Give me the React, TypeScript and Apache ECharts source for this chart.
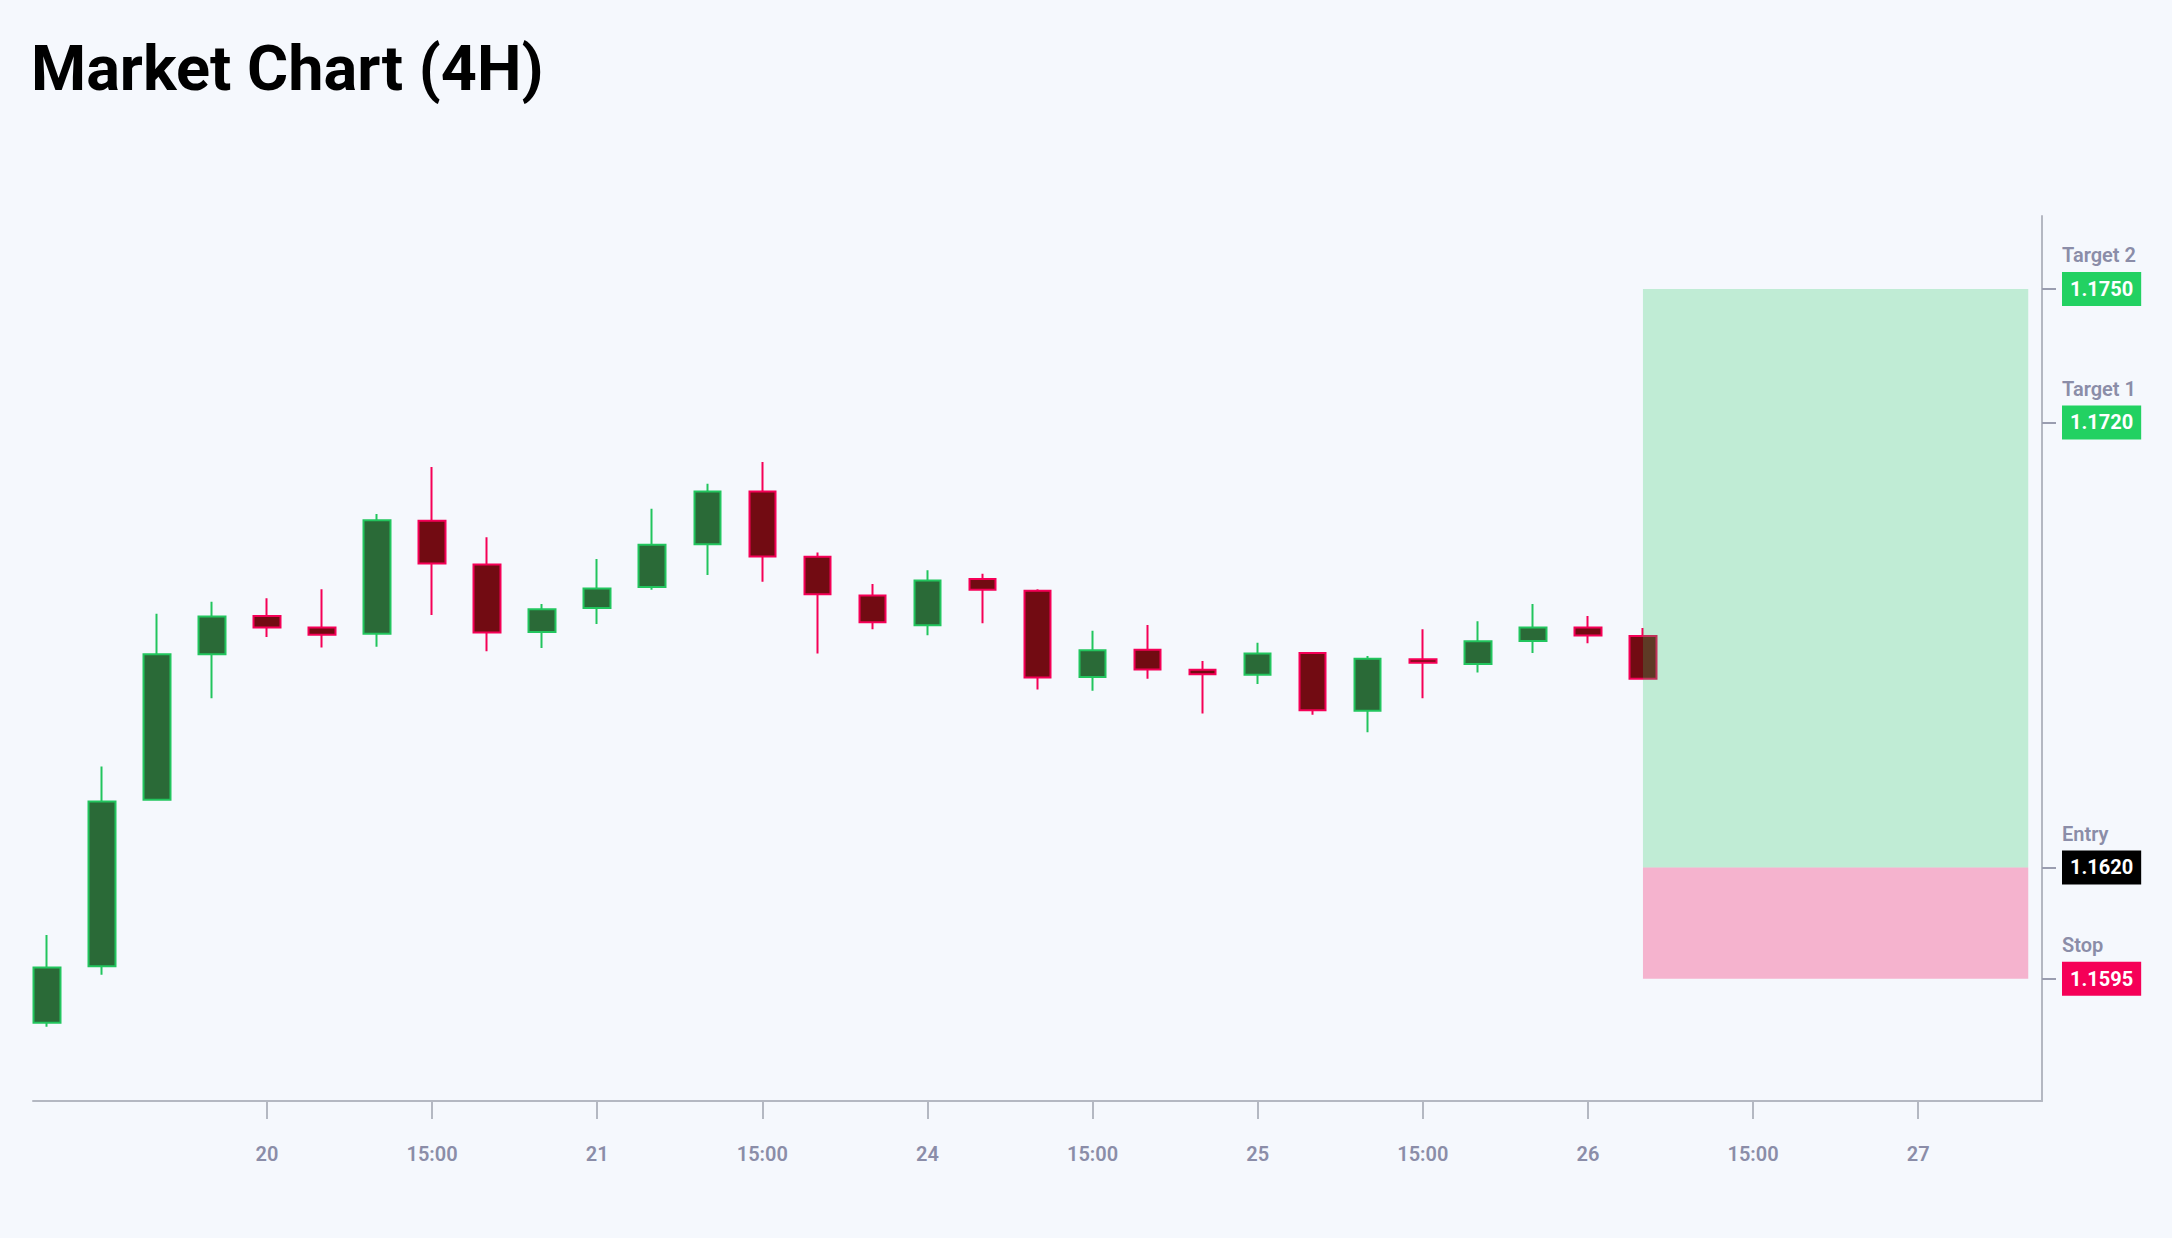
import React, { useEffect, useRef } from "react";
import * as echarts from "echarts";

const opens = [1.15851, 1.15978, 1.16352, 1.16679, 1.16765, 1.16739, 1.16725, 1.16979, 1.16881, 1.16729, 1.16783, 1.1683, 1.16926, 1.17045, 1.16898, 1.16811, 1.16744, 1.16848, 1.16822, 1.16628, 1.16689, 1.16644, 1.16633, 1.16682, 1.16552, 1.16668, 1.16657, 1.16709, 1.16739, 1.1672];
const closes = [1.15975, 1.16348, 1.16679, 1.16764, 1.16739, 1.16723, 1.1698, 1.16883, 1.16728, 1.1678, 1.16827, 1.16925, 1.17045, 1.16899, 1.16814, 1.16751, 1.16845, 1.16824, 1.16627, 1.16688, 1.16645, 1.16634, 1.16681, 1.16553, 1.16669, 1.1666, 1.16708, 1.16739, 1.16721, 1.16624];
const lows = [1.15842, 1.15959, 1.16352, 1.1658, 1.16718, 1.16694, 1.16696, 1.16767, 1.16686, 1.16693, 1.16747, 1.16824, 1.16857, 1.16842, 1.16681, 1.16735, 1.16722, 1.16749, 1.166, 1.16597, 1.16624, 1.16546, 1.16612, 1.16543, 1.16504, 1.1658, 1.16638, 1.16682, 1.16704, 1.16622];
const highs = [1.16048, 1.16427, 1.1677, 1.16797, 1.16805, 1.16825, 1.16994, 1.171, 1.16942, 1.16792, 1.16893, 1.17006, 1.17062, 1.17111, 1.16908, 1.16837, 1.16868, 1.1686, 1.16825, 1.16732, 1.16745, 1.16664, 1.16705, 1.16684, 1.16675, 1.16735, 1.16753, 1.16792, 1.16765, 1.16738];

const xTickPositions = [4, 7, 10, 13, 16, 19, 22, 25, 28, 31, 34];
const xTickLabels = ["20", "15:00", "21", "15:00", "24", "15:00", "25", "15:00", "26", "15:00", "27"];

const levelNames = ["Target 2", "Target 1", "Entry", "Stop"];
const levelValues = [1.175, 1.172, 1.162, 1.1595];
const levelColors = ["#22d162", "#22d162", "#000000", "#f50057"];

const zoneStart = 29;
const zoneEnd = 36;

export default function App() {
  const ref = useRef<HTMLDivElement>(null);
  useEffect(() => {
    document.body.style.margin = "0";
    const chart = echarts.init(ref.current!, undefined, { renderer: "svg" });
    const data = opens.map((o, i) => [i, o, closes[i], lows[i], highs[i]]);
    const rich: any = {
      n: { color: "#8b8da8", fontSize: 20, fontWeight: 600, lineHeight: 33, fontFamily: "Roboto" },
      p: { fontSize: 20, lineHeight: 33, height: 33 },
    };
    levelColors.forEach((c, i) => {
      rich["b" + i] = {
        backgroundColor: c,
        color: "#ffffff",
        fontSize: 20,
        fontWeight: "bold",
        fontFamily: "Roboto",
        padding: [0, 8],
        height: 34,
        lineHeight: 34,
      };
    });
    const axisGray = "#b4b8c2";
    chart.setOption({
      animation: false,
      backgroundColor: "#f5f8fd",
      title: {
        text: "Market Chart (4H)",
        left: 31,
        top: 37,
        padding: 0,
        textStyle: { fontSize: 63, fontWeight: "bold", color: "#000000", fontFamily: "Roboto" },
      },
      grid: { left: 33, right: 130, top: 216, bottom: 137 },
      xAxis: {
        type: "value",
        min: -0.25,
        max: 36.25,
        splitLine: { show: false },
        axisLine: { onZero: false, lineStyle: { color: axisGray, width: 2 } },
        axisTick: { customValues: xTickPositions, length: 18, lineStyle: { color: axisGray, width: 2 } },
        axisLabel: {
          customValues: xTickPositions,
          margin: 43,
          fontSize: 20,
          fontWeight: 600,
          color: "#8b8da8",
          fontFamily: "Roboto",
          formatter: (v: number) => {
            const k = xTickPositions.indexOf(Math.round(v));
            return k >= 0 ? xTickLabels[k] : "";
          },
        },
      },
      yAxis: {
        type: "value",
        position: "right",
        min: 1.15675,
        max: 1.17664,
        scale: true,
        splitLine: { show: false },
        axisLine: { show: true, onZero: false, lineStyle: { color: axisGray, width: 2 } },
        axisTick: { show: true, customValues: levelValues, length: 14, lineStyle: { color: "#9a9db0", width: 2 } },
        axisLabel: {
          customValues: levelValues,
          margin: 20,
          align: "left",
          formatter: (v: number) => {
            let k = 0;
            levelValues.forEach((lv, i) => {
              if (Math.abs(lv - v) < Math.abs(levelValues[k] - v)) k = i;
            });
            return `{n|${levelNames[k]}}\n{b${k}|${levelValues[k].toFixed(4)}}\n{p| }`;
          },
          rich,
        },
      },
      series: [
        {
          type: "candlestick",
          data,
          encode: { x: 0, y: [1, 2, 3, 4] },
          barWidth: 27,
          itemStyle: {
            color: "#2a6a37",
            color0: "#720b12",
            borderColor: "#22c55e",
            borderColor0: "#f50057",
            borderWidth: 2,
          },
          markArea: {
            silent: true,
            z: 5,
            data: [
              [
                { xAxis: zoneStart, yAxis: levelValues[0], itemStyle: { color: "rgba(34,200,95,0.25)" } },
                { xAxis: zoneEnd, yAxis: levelValues[2] },
              ],
              [
                { xAxis: zoneStart, yAxis: levelValues[2], itemStyle: { color: "rgba(245,0,87,0.28)" } },
                { xAxis: zoneEnd, yAxis: levelValues[3] },
              ],
            ],
          },
        },
      ],
    });
    return () => chart.dispose();
  }, []);
  return <div ref={ref} style={{ position: "fixed", left: 0, top: 0, width: "2172px", height: "1238px" }} />;
}
